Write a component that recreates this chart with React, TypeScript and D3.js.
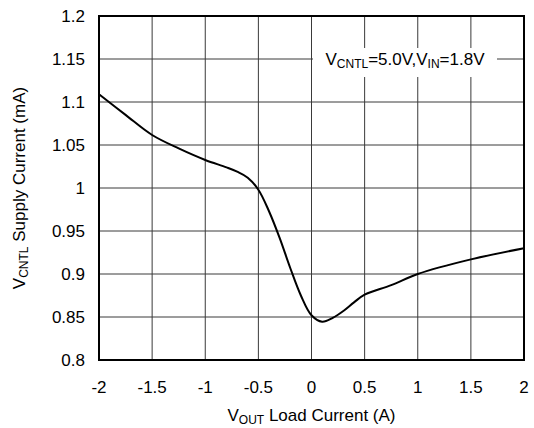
import * as d3 from "d3";
import React from "react";

// load current (A) vs VCNTL supply current (mA)
const loadCurrent = [-2, -1.75, -1.5, -1.25, -1, -0.8, -0.7, -0.6, -0.5, -0.4, -0.3, -0.2, -0.1, 0, 0.1, 0.2, 0.3, 0.4, 0.5, 0.75, 1, 1.5, 2];
const supplyCurrent = [1.109, 1.085, 1.0616, 1.046, 1.0326, 1.024, 1.019, 1.012, 0.998, 0.973, 0.942, 0.907, 0.875, 0.852, 0.8445, 0.849, 0.857, 0.867, 0.876, 0.887, 0.9, 0.917, 0.93];

const xTicks = [-2, -1.5, -1, -0.5, 0, 0.5, 1, 1.5, 2];
const yTicks = [0.8, 0.85, 0.9, 0.95, 1, 1.05, 1.1, 1.15, 1.2];

const W = 534;
const H = 428;
const margin = { left: 99, right: 10, top: 16, bottom: 68 };
const FONT = "'Liberation Sans', Arial, sans-serif";

const App: React.FC = () => {
    const x = d3.scaleLinear().domain([-2, 2]).range([margin.left, W - margin.right]);
    const y = d3.scaleLinear().domain([0.8, 1.2]).range([H - margin.bottom, margin.top]);

    const pts = loadCurrent.map((v, i) => [v, supplyCurrent[i]] as [number, number]);
    const line = d3.line<[number, number]>()
        .x(d => x(d[0]))
        .y(d => y(d[1]))
        .curve(d3.curveCatmullRom.alpha(0.5));

    const x0 = x(-2), x1 = x(2), y0 = y(0.8), y1 = y(1.2);

    return (
        <svg width={W} height={H} style={{ position: "absolute", left: 0, top: 0, background: "#fff" }} fontFamily={FONT}>
            {/* grid */}
            {xTicks.map(t => (
                <line key={"gx" + t} x1={x(t)} x2={x(t)} y1={y1} y2={y0} stroke="#3a3a3a" strokeWidth={1} />
            ))}
            {yTicks.map(t => (
                <line key={"gy" + t} x1={x0} x2={x1} y1={y(t)} y2={y(t)} stroke="#3a3a3a" strokeWidth={1} />
            ))}

            {/* annotation box */}
            <rect x={313} y={48} width={184} height={29} fill="#fff" />
            <text x={405} y={y(1.15) + 6} textAnchor="middle" fontSize={17} fill="#000">
                V<tspan fontSize={12} dy={3}>CNTL</tspan><tspan dy={-3}>=5.0V,V</tspan><tspan fontSize={12} dy={3}>IN</tspan><tspan dy={-3}>=1.8V</tspan>
            </text>

            {/* curve */}
            <path d={line(pts) || ""} fill="none" stroke="#000" strokeWidth={2} />

            {/* frame */}
            <rect x={x0} y={y1} width={x1 - x0} height={y0 - y1} fill="none" stroke="#000" strokeWidth={2} />

            {/* tick labels */}
            {xTicks.map(t => (
                <text key={"tx" + t} x={x(t)} y={y0 + 33} textAnchor="middle" fontSize={17}>{String(t)}</text>
            ))}
            {yTicks.map(t => (
                <text key={"ty" + t} x={x0 - 14} y={y(t) + 6} textAnchor="end" fontSize={17}>{String(+t.toFixed(2))}</text>
            ))}

            {/* axis titles */}
            <text x={(x0 + x1) / 2} y={H - 7} textAnchor="middle" fontSize={17}>
                V<tspan fontSize={12} dy={3}>OUT</tspan><tspan dy={-3}> Load Current (A)</tspan>
            </text>
            <text transform={`translate(25,${(y0 + y1) / 2}) rotate(-90)`} textAnchor="middle" fontSize={17}>
                V<tspan fontSize={12} dy={3}>CNTL</tspan><tspan dy={-3}> Supply Current (mA)</tspan>
            </text>
        </svg>
    );
};

export default App;
